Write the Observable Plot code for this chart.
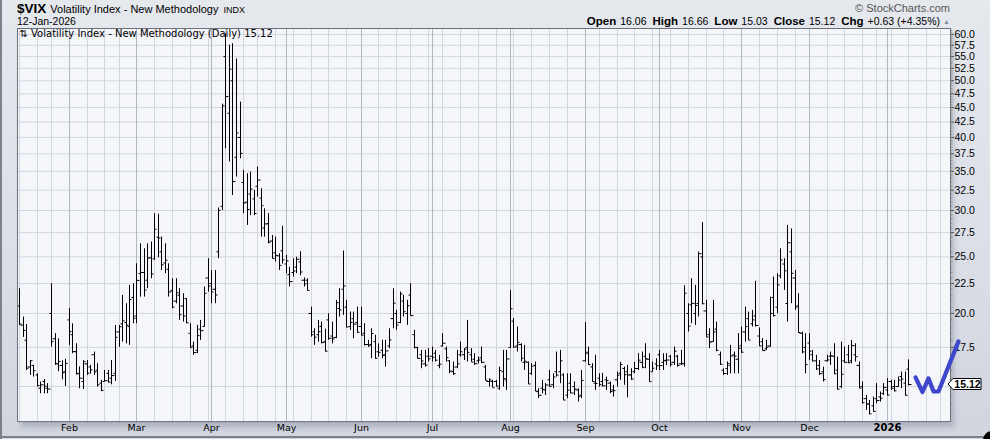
<!DOCTYPE html>
<html><head><meta charset="utf-8">
<script src="https://cdn.jsdelivr.net/npm/d3@7"></script>
<script src="https://cdn.jsdelivr.net/npm/@observablehq/plot@0.6"></script>
<style>
html,body{margin:0;padding:0;background:#dde1e8;}
#wrap{position:relative;width:990px;height:439px;overflow:hidden;background:linear-gradient(to bottom,#e5e8ed 0%,#dcdfe7 55%,#d0d5de 100%);}
#shadow{position:absolute;left:17px;top:28px;width:933px;height:393px;box-shadow:4px 6px 5px rgba(70,80,100,0.25);}
#chart{position:absolute;left:0;top:0;}
#hdr{position:absolute;left:0;top:0;}
.bl{position:absolute;background:#7c818b;}
#dot{position:absolute;left:983px;top:431px;width:18px;height:18px;border-radius:50%;background:#000;}
</style></head>
<body>
<div id="wrap">
  <div id="shadow"></div>
  <svg id="hdr" width="990" height="28" font-family="'Liberation Sans', Arial, sans-serif">
    <text x="17" y="13" font-size="13.5" font-weight="bold" fill="#000">$VIX<tspan font-size="11" font-weight="normal" dx="4">Volatility Index - New Methodology</tspan><tspan font-size="9" font-weight="normal" dx="5">INDX</tspan></text>
    <text x="17" y="25" font-size="10.5" fill="#000">12-Jan-2026</text>
    <text x="950" y="12" font-size="11" fill="#555" text-anchor="end">© StockCharts.com</text>
    <text id="stats" x="940" y="25" fill="#000" text-anchor="end"></text>
    <text x="950" y="24" font-size="7" fill="#8a8f99" text-anchor="end">▲</text>
  </svg>
  <div id="chart"></div>
  <div class="bl" style="left:0;top:0;width:2px;height:439px;"></div>
  <div class="bl" style="left:0;top:436px;width:990px;height:2px;"></div>
  <div id="dot"></div>
</div>
<script>
// ---- Trading dates (Jan 13 2025 – Jan 12 2026) ----
const dates = [
"2025-01-13","2025-01-14","2025-01-15","2025-01-16","2025-01-17","2025-01-21","2025-01-22","2025-01-23","2025-01-24","2025-01-27","2025-01-28","2025-01-29","2025-01-30","2025-01-31",
"2025-02-03","2025-02-04","2025-02-05","2025-02-06","2025-02-07","2025-02-10","2025-02-11","2025-02-12","2025-02-13","2025-02-14","2025-02-18","2025-02-19","2025-02-20","2025-02-21","2025-02-24","2025-02-25","2025-02-26","2025-02-27","2025-02-28",
"2025-03-03","2025-03-04","2025-03-05","2025-03-06","2025-03-07","2025-03-10","2025-03-11","2025-03-12","2025-03-13","2025-03-14","2025-03-17","2025-03-18","2025-03-19","2025-03-20","2025-03-21","2025-03-24","2025-03-25","2025-03-26","2025-03-27","2025-03-28","2025-03-31",
"2025-04-01","2025-04-02","2025-04-03","2025-04-04","2025-04-07","2025-04-08","2025-04-09","2025-04-10","2025-04-11","2025-04-14","2025-04-15","2025-04-16","2025-04-17","2025-04-21","2025-04-22","2025-04-23","2025-04-24","2025-04-25","2025-04-28","2025-04-29","2025-04-30",
"2025-05-01","2025-05-02","2025-05-05","2025-05-06","2025-05-07","2025-05-08","2025-05-09","2025-05-12","2025-05-13","2025-05-14","2025-05-15","2025-05-16","2025-05-19","2025-05-20","2025-05-21","2025-05-22","2025-05-23","2025-05-27","2025-05-28","2025-05-29","2025-05-30",
"2025-06-02","2025-06-03","2025-06-04","2025-06-05","2025-06-06","2025-06-09","2025-06-10","2025-06-11","2025-06-12","2025-06-13","2025-06-16","2025-06-17","2025-06-18","2025-06-20","2025-06-23","2025-06-24","2025-06-25","2025-06-26","2025-06-27","2025-06-30",
"2025-07-01","2025-07-02","2025-07-03","2025-07-07","2025-07-08","2025-07-09","2025-07-10","2025-07-11","2025-07-14","2025-07-15","2025-07-16","2025-07-17","2025-07-18","2025-07-21","2025-07-22","2025-07-23","2025-07-24","2025-07-25","2025-07-28","2025-07-29","2025-07-30","2025-07-31",
"2025-08-01","2025-08-04","2025-08-05","2025-08-06","2025-08-07","2025-08-08","2025-08-11","2025-08-12","2025-08-13","2025-08-14","2025-08-15","2025-08-18","2025-08-19","2025-08-20","2025-08-21","2025-08-22","2025-08-25","2025-08-26","2025-08-27","2025-08-28","2025-08-29",
"2025-09-02","2025-09-03","2025-09-04","2025-09-05","2025-09-08","2025-09-09","2025-09-10","2025-09-11","2025-09-12","2025-09-15","2025-09-16","2025-09-17","2025-09-18","2025-09-19","2025-09-22","2025-09-23","2025-09-24","2025-09-25","2025-09-26","2025-09-29","2025-09-30",
"2025-10-01","2025-10-02","2025-10-03","2025-10-06","2025-10-07","2025-10-08","2025-10-09","2025-10-10","2025-10-13","2025-10-14","2025-10-15","2025-10-16","2025-10-17","2025-10-20","2025-10-21","2025-10-22","2025-10-23","2025-10-24","2025-10-27","2025-10-28","2025-10-29","2025-10-30","2025-10-31",
"2025-11-03","2025-11-04","2025-11-05","2025-11-06","2025-11-07","2025-11-10","2025-11-11","2025-11-12","2025-11-13","2025-11-14","2025-11-17","2025-11-18","2025-11-19","2025-11-20","2025-11-21","2025-11-24","2025-11-25","2025-11-26","2025-11-28",
"2025-12-01","2025-12-02","2025-12-03","2025-12-04","2025-12-05","2025-12-08","2025-12-09","2025-12-10","2025-12-11","2025-12-12","2025-12-15","2025-12-16","2025-12-17","2025-12-18","2025-12-19","2025-12-22","2025-12-23","2025-12-24","2025-12-26","2025-12-29","2025-12-30","2025-12-31",
"2026-01-02","2026-01-05","2026-01-06","2026-01-07","2026-01-08","2026-01-09","2026-01-12"
];
// empty future sessions shown on the right of the chart
const futureDates = ["2026-01-13","2026-01-14","2026-01-15","2026-01-16","2026-01-20","2026-01-21","2026-01-22","2026-01-23","2026-01-26","2026-01-27"];

const opens = [
20.6,19.1,18.0,16.2,16.3,15.7,14.9,15.3,14.9,20.0,18.1,16.4,16.3,15.9,
19.5,18.4,17.2,15.8,15.3,16.4,16.2,17.0,16.0,15.2,15.3,15.8,15.5,15.8,18.6,19.2,19.3,19.0,21.3,
19.8,23.4,23.5,22.8,24.9,24.8,27.0,25.5,24.4,23.8,21.9,21.0,21.5,20.6,21.2,18.5,17.6,17.3,18.8,19.0,23.0,
22.5,22.0,25.5,30.5,55.0,44.0,50.0,37.0,40.0,33.5,31.0,32.0,31.4,33.0,31.5,28.0,28.5,26.6,25.4,25.1,25.6,
24.3,23.3,23.5,24.0,24.5,22.8,22.8,20.0,18.6,18.4,19.0,17.9,19.5,18.3,18.2,20.4,22.0,20.5,19.0,19.6,19.3,
19.0,18.5,17.7,17.7,17.9,17.2,17.3,17.0,17.6,19.6,20.0,19.3,21.0,20.0,21.5,18.4,17.5,17.0,16.4,16.9,
16.9,17.1,16.3,17.6,17.4,16.6,15.9,16.2,17.0,17.0,17.5,17.0,16.7,16.6,16.8,16.2,15.3,15.3,15.3,14.9,15.9,15.4,
17.5,19.4,17.6,17.7,16.5,16.5,15.8,16.3,14.7,14.9,14.8,15.4,15.1,15.9,15.9,15.7,14.5,15.2,15.0,14.8,14.5,
16.6,17.1,16.2,15.2,15.5,15.3,15.4,15.2,14.8,15.4,15.8,16.1,15.9,15.7,15.9,16.1,16.5,16.9,16.7,15.9,16.4,
17.0,16.5,16.6,16.9,16.5,16.9,16.4,16.4,20.0,20.7,20.0,20.8,25.0,20.2,18.4,17.9,18.8,17.0,16.0,16.1,16.3,17.0,16.7,
17.6,18.6,19.6,19.2,19.8,18.3,17.9,17.4,17.6,21.3,20.5,23.2,24.3,20.8,25.5,23.0,20.6,18.5,17.5,
17.8,17.0,16.6,16.3,15.9,16.6,16.9,16.9,16.0,15.0,16.6,17.0,16.6,17.0,16.3,15.0,14.3,14.0,13.9,14.3,14.4,14.6,
14.8,15.3,15.0,15.0,15.6,15.2,16.06
];
const highs = [
22.05,19.72,19.15,16.62,16.30,15.77,15.27,15.42,15.17,22.48,18.47,18.1,16.6,16.7,
20.38,19.2,17.75,16.2,16.62,16.62,16.3,17.18,16.41,15.37,15.98,15.98,16.62,19.08,19.08,21.47,20.78,22.34,22.48,
24.32,26.31,25.8,26.31,26.5,29.62,29.56,27.02,26.31,24.32,22.93,22.93,22.05,21.62,21.2,19.21,17.87,19.08,19.46,22.2,24.81,
23.69,23.69,30.3,45.6,60.13,57.52,57.85,54.5,45.98,35.13,34.67,34.9,32.46,35.6,32.68,30.2,29.62,27.19,27.02,25.3,28.2,
25.13,24.0,24.8,24.96,25.5,23.0,22.93,20.51,18.83,19.46,19.33,18.8,19.98,19.33,21.06,22.05,25.57,21.06,20.11,20.11,20.51,
20.51,19.21,17.99,18.83,18.35,17.75,17.99,17.99,18.83,22.05,20.24,21.76,21.47,21.06,22.48,18.71,17.5,17.29,17.29,17.41,
17.52,17.29,16.96,18.47,17.52,16.62,16.52,17.29,17.87,17.41,19.46,17.41,17.07,16.84,17.52,16.3,15.47,15.37,15.37,16.19,17.29,17.29,
21.90,19.6,18.96,17.75,17.64,16.52,16.41,16.52,14.87,15.37,15.17,15.98,15.77,17.18,17.29,15.77,15.77,15.77,15.27,14.87,15.98,
19.3,17.52,16.41,16.96,15.77,15.80,15.57,15.27,15.07,15.88,16.5,16.19,16.30,16.09,16.5,17.07,17.18,17.75,17.07,16.52,16.73,
17.29,17.07,17.07,16.96,17.52,16.96,17.29,22.3,20.78,22.93,22.34,25.47,28.6,21.06,18.83,21.06,19.33,17.18,16.09,16.52,17.64,17.18,18.47,
18.96,20.51,20.11,20.24,22.7,18.89,18.11,17.99,21.33,23.08,23.39,25.8,24.81,28.29,27.9,23.69,21.62,18.59,18.47,
18.47,17.29,16.96,16.62,16.19,16.96,17.18,17.75,16.84,17.87,17.52,17.64,17.99,17.75,16.52,15.27,14.48,14.2,14.39,15.17,14.68,15.17,
15.47,15.37,15.37,15.57,15.88,15.88,16.66
];
const lows = [
19.08,18.2,15.98,15.67,15.57,14.97,14.58,14.58,14.58,17.52,16.3,15.9,15.4,15.0,
17.64,17.07,15.7,14.87,14.82,15.67,15.75,15.67,14.97,14.7,15.27,15.2,15.1,15.3,17.5,17.87,17.75,17.64,19.21,
19.21,21.33,21.33,22.05,22.93,24.64,24.9,23.69,23.39,21.33,20.38,20.78,19.46,19.33,19.21,17.45,16.96,17.07,17.99,18.96,21.76,
20.78,20.78,24.81,30.0,38.25,36.3,31.83,34.21,36.77,29.62,28.29,29.4,29.4,31.62,27.02,27.02,26.31,24.81,24.5,23.69,24.3,
23.39,22.2,23.08,23.39,23.2,22.2,21.85,18.22,17.64,17.87,17.75,17.18,17.99,17.75,18.11,19.72,19.85,18.9,18.71,18.11,18.5,
18.3,17.6,17.5,16.73,16.7,16.84,16.73,16.19,17.41,18.83,18.71,19.21,19.72,19.08,19.8,17.41,16.73,16.09,16.19,16.52,
16.52,16.52,16.09,17.52,16.52,15.77,15.67,16.09,16.84,16.62,16.52,16.5,16.30,16.41,16.41,15.35,14.97,14.93,14.97,14.77,14.97,14.77,
17.41,17.45,17.18,16.52,15.98,15.12,15.67,14.70,14.30,14.58,14.48,14.97,14.87,15.57,15.17,14.2,14.30,14.58,14.48,14.11,14.30,
16.52,16.30,15.27,14.77,14.97,14.97,14.77,14.58,14.39,14.97,15.37,15.07,14.35,15.37,15.77,15.98,16.09,16.09,15.27,15.88,15.98,
15.98,15.98,16.30,16.19,16.30,16.19,16.30,16.19,18.59,19.21,19.08,19.72,20.7,18.2,17.41,17.87,17.2,16.30,15.67,15.67,15.77,15.77,15.77,
17.1,17.87,17.99,18.96,18.96,17.55,17.25,17.29,17.5,19.72,19.98,22.93,21.90,19.33,20.78,20.24,18.5,17.07,15.77,
16.62,16.52,15.98,15.67,15.27,16.52,16.30,15.72,14.8,14.87,16.45,16.41,16.41,16.52,14.88,14.0,13.65,13.42,13.56,14.02,14.11,14.48,
14.45,14.77,14.68,14.97,14.87,14.45,15.03
];
const closes = [
19.19,18.71,16.12,16.60,15.97,15.06,15.10,15.02,14.85,17.90,16.41,16.56,15.84,16.43,
18.62,17.21,15.77,15.50,16.54,15.81,16.02,15.89,15.10,14.77,15.35,15.27,15.66,18.21,18.98,19.43,19.10,21.13,19.63,
22.78,23.51,21.93,24.87,23.37,27.86,26.92,24.23,24.66,21.77,20.51,21.70,19.90,19.80,19.28,17.48,17.15,18.33,18.69,21.65,22.28,
21.77,21.51,30.02,45.31,46.98,52.33,33.62,40.72,37.56,30.89,30.12,32.64,29.65,33.82,30.57,28.45,26.47,24.84,25.15,24.17,24.70,
24.60,22.68,23.64,24.76,23.55,22.48,21.90,18.39,18.22,18.62,17.83,17.24,18.14,18.09,20.87,20.28,22.29,18.96,19.31,19.18,18.57,
18.36,17.69,17.61,18.48,16.77,17.16,16.95,17.26,18.02,20.82,19.11,21.60,20.14,20.62,19.83,17.48,16.76,16.59,16.32,16.73,
16.83,16.64,16.38,17.79,16.81,15.94,15.78,16.40,17.20,17.38,17.16,16.52,16.41,16.65,16.50,15.37,15.39,14.93,15.03,15.98,15.48,16.72,
20.38,17.52,17.85,16.77,16.57,15.15,16.25,14.73,14.49,14.83,15.09,15.00,15.57,15.69,16.60,14.22,14.79,14.62,14.85,14.43,15.36,
17.17,16.35,15.30,15.18,15.11,15.04,15.35,14.71,14.76,15.69,16.36,15.72,15.70,15.45,16.10,16.64,16.18,16.74,15.29,16.12,16.28,
16.29,16.63,16.65,16.37,17.24,16.30,16.43,21.66,19.03,20.81,20.64,25.31,20.78,18.23,17.87,18.60,17.30,16.37,15.79,16.42,16.92,16.91,17.44,
17.17,19.00,18.01,19.50,19.08,17.60,17.28,17.51,20.00,19.83,22.38,24.69,23.66,26.42,23.43,20.52,18.56,17.19,16.35,
17.24,16.59,16.08,15.78,15.41,16.66,16.93,15.77,14.85,15.74,16.50,16.48,17.62,16.87,14.91,14.08,14.00,13.47,13.60,14.20,14.33,14.95,
14.51,14.90,14.75,15.38,15.45,14.49,15.12
];

// axis / grid tick values and labels
const gridValues = [15, 17.5, 20, 22.5, 25, 27.5, 30, 32.5, 35, 37.5, 40, 42.5, 45, 47.5, 50, 52.5, 55, 57.5, 60];
const yTickValues = [17.5, 20, 22.5, 25, 27.5, 30, 32.5, 35, 37.5, 40, 42.5, 45, 47.5, 50, 52.5, 55, 57.5, 60];
const yTickLabels = ["17.5","20.0","22.5","25.0","27.5","30.0","32.5","35.0","37.5","40.0","42.5","45.0","47.5","50.0","52.5","55.0","57.5","60.0"];
const monthLabels = ["Feb","Mar","Apr","May","Jun","Jul","Aug","Sep","Oct","Nov","Dec","2026"];

// hand-drawn blue annotation (session index, value)
const squiggleX = [251.9, 253.7, 255.5, 256.9, 258.3, 263.95];
const squiggleY = [15.55, 14.68, 15.49, 14.71, 14.71, 17.92];

// header quote
const quoteLabels = ["Open","High","Low","Close","Chg"];
const quoteValues = ["16.06","16.66","15.03","15.12","+0.63 (+4.35%)"];
const legendText = "⇅ Volatility Index - New Methodology (Daily) 15.12";

if ([opens, highs, lows, closes].some(a => a.length !== dates.length)) {
  throw new Error("length mismatch: " + [dates.length, opens.length, highs.length, lows.length, closes.length].join(","));
}

const bars = dates.map((d, i) => ({i, o: opens[i], h: highs[i], l: lows[i], c: closes[i]}));
const allDates = dates.concat(futureDates);
const parse = d3.utcParse("%Y-%m-%d");
const weekStarts = [], monthStarts = [];
allDates.forEach((d, i) => {
  if (i === 0) { weekStarts.push(0); return; }
  const a = parse(allDates[i - 1]), b = parse(d);
  if (b.getUTCDay() <= a.getUTCDay() || (b - a) >= 7 * 864e5) weekStarts.push(i);
  if (b.getUTCMonth() !== a.getUTCMonth()) monthStarts.push(i);
});
const monthMarks = monthStarts.map((i, k) => ({i, label: monthLabels[k]}));
const dayTicks = d3.range(0, allDates.length);
const minorTicks = d3.range(13.5, 61.01, 0.5);
const squiggle = squiggleX.map((x, k) => ({x, y: squiggleY[k]}));
const lastClose = closes[closes.length - 1];

// header stats line
const stats = d3.select("#stats");
quoteLabels.forEach((l, k) => {
  stats.append("tspan").attr("font-weight", "bold").attr("font-size", 11.5).attr("dx", k ? 6 : 0).text(l);
  stats.append("tspan").attr("font-size", 10.5).attr("dx", 4).text(quoteValues[k]);
});

const chart = Plot.plot({
  width: 990, height: 439,
  marginTop: 28, marginRight: 40, marginBottom: 18, marginLeft: 17,
  style: {background: "transparent", overflow: "visible", fontFamily: "'Liberation Sans', Arial, sans-serif", color: "#000"},
  x: {type: "linear", domain: [-0.562, 261.71], round: true, axis: null, label: null},
  y: {type: "log", domain: [13.07, 61.43], axis: null, label: null},
  marks: [
    Plot.frame({fill: "#f5f6fa", stroke: "none"}),
    Plot.ruleY(gridValues, {stroke: "#d3d6de", strokeWidth: 1}),
    Plot.ruleX(weekStarts, {stroke: "#d3d6de", strokeWidth: 1}),
    Plot.ruleX(monthStarts, {stroke: "#b2b6c0", strokeWidth: 1}),
    Plot.text([legendText], {frameAnchor: "top-left", text: d => d, dx: 2, dy: 1, textAnchor: "start", lineAnchor: "top", fontFamily: "'DejaVu Sans', Verdana, sans-serif", fontSize: 10, fill: "#000"}),
    Plot.ruleX(bars, {x: "i", y1: "l", y2: "h", stroke: "#000", strokeWidth: 1}),
    Plot.link(bars, {x1: d => d.i - 0.62, x2: "i", y1: "o", y2: "o", stroke: "#000", strokeWidth: 1}),
    Plot.link(bars, {x1: "i", x2: d => d.i + 0.62, y1: "c", y2: "c", stroke: "#000", strokeWidth: 1}),
    Plot.frame({stroke: "#6c717c"}),
    Plot.axisX(dayTicks, {tickSize: 2, tickFormat: () => "", stroke: "#8c919b", label: null}),
    Plot.axisY(minorTicks, {anchor: "right", tickSize: 1.5, tickFormat: () => "", stroke: "#8c919b", label: null}),
    Plot.axisY(yTickValues, {anchor: "right", tickSize: 3, tickPadding: 1, tickFormat: d => yTickLabels[yTickValues.indexOf(d)], fontSize: 10.5, fill: "#000", stroke: "#555", label: null}),
    Plot.text(monthMarks.filter(m => m.label !== "2026"), {x: "i", text: "label", frameAnchor: "bottom", dy: 9, fontFamily: "'DejaVu Sans', Verdana, sans-serif", fontSize: 9.5, fill: "#000"}),
    Plot.text(monthMarks.filter(m => m.label === "2026"), {x: "i", text: "label", frameAnchor: "bottom", dy: 9, fontFamily: "'DejaVu Sans', Verdana, sans-serif", fontSize: 10, fontWeight: "bold", fill: "#000"}),
    Plot.line(squiggle, {x: "x", y: "y", stroke: "#3e46c9", strokeWidth: 4.2, strokeLinecap: "round", strokeLinejoin: "round"}),
    (index, scales, values, dims) => {
      const y = scales.y(lastClose);
      const x0 = dims.width - dims.marginRight - 2;
      const g = d3.create("svg:g");
      g.append("path")
        .attr("d", `M${x0},${y} L${x0 + 5},${y - 5.5} H${x0 + 33} V${y + 5.5} H${x0 + 5} Z`)
        .attr("fill", "#fff").attr("stroke", "#000").attr("stroke-width", 1);
      g.append("text").attr("x", x0 + 19.5).attr("y", y).attr("dy", "0.36em")
        .attr("text-anchor", "middle").attr("font-weight", "bold").attr("font-size", 10.5)
        .attr("font-family", "'Liberation Sans', Arial, sans-serif").attr("fill", "#000")
        .text(lastClose.toFixed(2));
      return g.node();
    }
  ]
});
document.getElementById("chart").appendChild(chart);
</script>
</body></html>
